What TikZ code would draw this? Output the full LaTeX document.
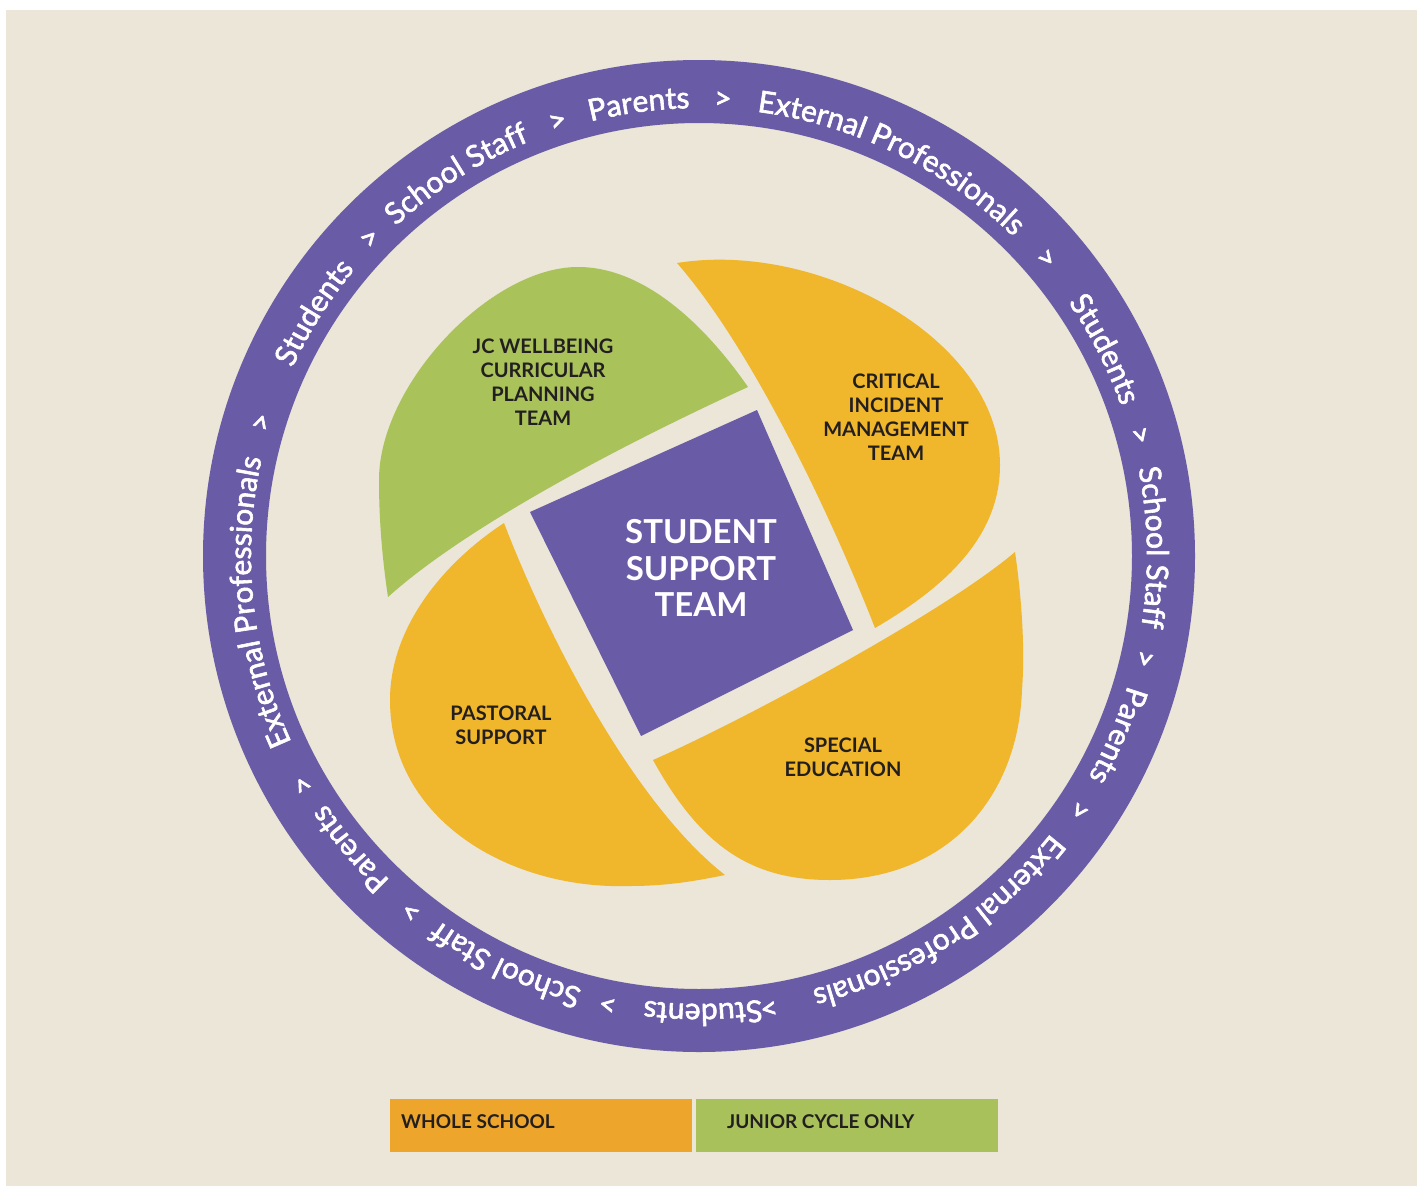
\documentclass[tikz,border=0pt]{standalone}
\usepackage{fontspec}
\setmainfont{Lato}
\newfontfamily\ringfont{Lato}[FakeBold=2]
\usetikzlibrary{decorations.text}

\definecolor{bg}{HTML}{EBE6D8}
\definecolor{ringc}{HTML}{6A5BA6}
\definecolor{petalc}{HTML}{F0B62C}
\definecolor{leafc}{HTML}{A9C25A}
\definecolor{keyorange}{HTML}{EDA62B}
\definecolor{keygreen}{HTML}{A9C15B}
\definecolor{ink}{HTML}{231F20}

\newcommand\ringbase{448}
\newcommand\ringstyle{\ringfont\fontsize{30}{30}\selectfont}
% one word (or separator) set along the ring, centred on the given angle, read clockwise
\newcommand\ringword[2]{%
  \path[decorate, decoration={text along path, text align=center, text color=white,
        text={|\ringstyle|#2}}]
    ({#1+40}:\ringbase) arc[start angle={#1+40}, end angle={#1-40}, radius=\ringbase];}

\begin{document}
\begin{tikzpicture}[x=1pt,y=1pt,
  lbl/.style={align=center, text=ink, font=\bfseries\fontsize{20}{24}\selectfont, inner sep=0pt},
  keylbl/.style={anchor=west, text=ink, font=\bfseries\fontsize{19}{22}\selectfont, inner sep=0pt}]

% canvas
\useasboundingbox (0,0) rectangle (1417,-1186);
\fill[white] (0,0) rectangle (1417,-1186);
\fill[bg] (6,-10) rectangle (1417,-1186);

% outer ring
\coordinate (c) at (699,-556);
\fill[ringc, even odd rule] (c) circle[radius=496] (c) circle[radius=433];

\begin{scope}[shift={(c)}]
  \ringword{97.6}{Parents}
  \ringword{87}{>}
  \ringword{64}{External Professionals}
  \ringword{40.6}{>}
  \ringword{27}{Students}
  \ringword{15.3}{>}
  \ringword{1.1}{School Staff}
  \ringword{-13}{>}
  \ringword{-23.2}{Parents}
  \ringword{-33.8}{>}
  \ringword{-56.8}{External Professionals}
  \ringword{-81.2}{>}
  \ringword{-89.5}{Students}
  \ringword{-101.5}{>}
  \ringword{-115.3}{School Staff}
  \ringword{-129}{>}
  \ringword{-140}{Parents}
  \ringword{-150}{>}
  \ringword{186}{External Professionals}
  \ringword{163}{>}
  \ringword{147.7}{Students}
  \ringword{136}{>}
  \ringword{122.4}{School Staff}
  \ringword{108}{>}
\end{scope}

% petals
% junior cycle leaf (top left)
\fill[leafc] (388,-597)
  .. controls (468,-525) and (628,-442) .. (748,-387)
  .. controls (712,-335) and (650,-267) .. (578,-267)
  .. controls (490,-267) and (379,-385) .. (379,-480)
  .. controls (379,-530) and (384,-570) .. (388,-597) -- cycle;

% critical incident (top right)
\fill[petalc] (677,-263)
  .. controls (752,-349) and (830,-513) .. (875,-628)
  .. controls (940,-590) and (1000,-540) .. (1000,-465)
  .. controls (1000,-340) and (820,-240) .. (677,-263) -- cycle;

% pastoral support (bottom left)
\fill[petalc] (504,-523)
  .. controls (548,-638) and (635,-805) .. (725,-875)
  .. controls (700,-880) and (670,-886) .. (630,-886)
  .. controls (510,-890) and (390,-820) .. (390,-700)
  .. controls (390,-630) and (440,-565) .. (504,-523) -- cycle;

% special education (bottom right)
\fill[petalc] (653,-760)
  .. controls (740,-722) and (945,-612) .. (1015,-552)
  .. controls (1022,-600) and (1025,-650) .. (1022,-690)
  .. controls (1018,-800) and (945,-880) .. (830,-880)
  .. controls (750,-880) and (700,-845) .. (653,-760) -- cycle;

% central square
\fill[ringc] (757,-410) -- (853,-630) -- (641,-736) -- (530,-512) -- cycle;

% labels
\node[lbl] (jc) at (543,-382) {JC WELLBEING\\CURRICULAR\\PLANNING\\TEAM};
\node[lbl] (cim) at (896,-417) {CRITICAL\\INCIDENT\\MANAGEMENT\\TEAM};
\node[lbl] (pas) at (501,-725) {PASTORAL\\SUPPORT};
\node[lbl] (sen) at (843,-757) {SPECIAL\\EDUCATION};
\node[align=center, text=white, inner sep=0pt, font=\bfseries\fontsize{33}{36.5}\selectfont] (sst) at (701,-568) {STUDENT\\SUPPORT\\TEAM};

% key
\fill[keyorange] (390,-1099) rectangle (692,-1152);
\fill[keygreen] (696,-1099) rectangle (998,-1152);
\node[keylbl] (kw) at (401,-1122) {WHOLE SCHOOL};
\node[keylbl] (kj) at (727,-1122) {JUNIOR CYCLE ONLY};
\end{tikzpicture}
\end{document}
